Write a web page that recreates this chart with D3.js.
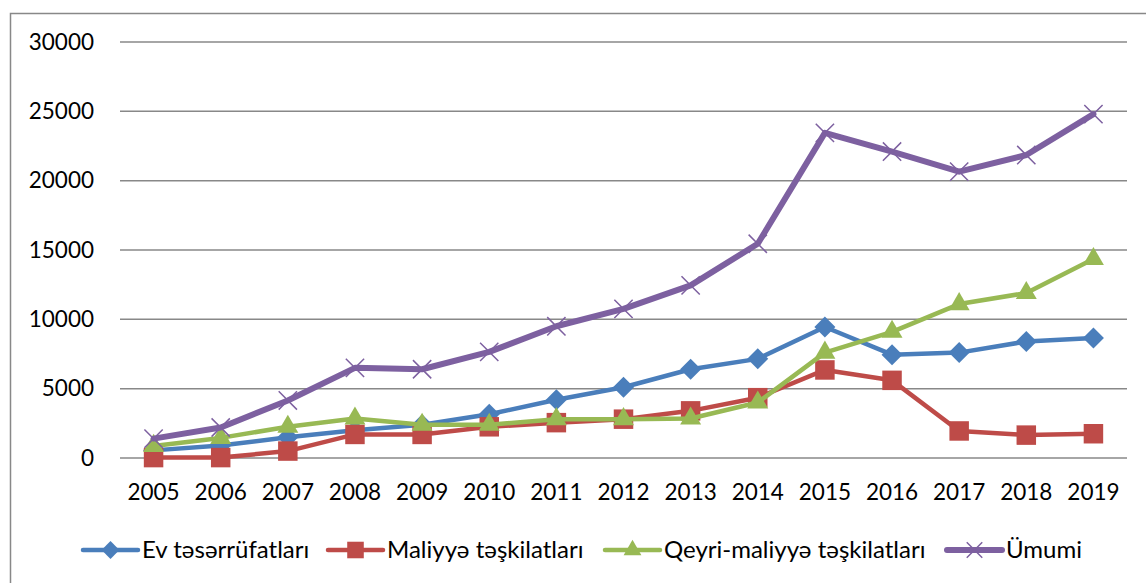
<!DOCTYPE html>
<html>
<head>
<meta charset="utf-8">
<script src="https://cdn.jsdelivr.net/npm/d3@7"></script>
<style>
  body { margin: 0; background: #fff; }
  svg { display: block; font-family: Lato, 'Open Sans', sans-serif; }
</style>
</head>
<body>
<svg id="chart" width="1146" height="583"></svg>
<script>
const years = ['2005', '2006', '2007', '2008', '2009', '2010', '2011', '2012', '2013', '2014', '2015', '2016', '2017', '2018', '2019'];
const evValues = [550, 900, 1500, 2000, 2400, 3150, 4200, 5100, 6400, 7150, 9450, 7450, 7600, 8400, 8650];
const maliyyeValues = [30, 30, 500, 1700, 1700, 2250, 2550, 2800, 3400, 4350, 6350, 5600, 1950, 1650, 1750];
const qeyriValues = [870, 1450, 2250, 2850, 2400, 2400, 2800, 2800, 2850, 4000, 7600, 9100, 11100, 11900, 14350];
const umumiValues = [1400, 2200, 4150, 6500, 6400, 7650, 9500, 10750, 12450, 15450, 23450, 22100, 20650, 21850, 24800];
const yTicks = [0, 5000, 10000, 15000, 20000, 25000, 30000];

const series = [
  { label: 'Ev təsərrüfatları', values: evValues, color: '#4a7ebb', marker: 'diamond', width: 4.5 },
  { label: 'Maliyyə təşkilatları', values: maliyyeValues, color: '#be4b48', marker: 'square', width: 4.5 },
  { label: 'Qeyri-maliyyə təşkilatları', values: qeyriValues, color: '#98b954', marker: 'triangle', width: 4.5 },
  { label: 'Ümumi', values: umumiValues, color: '#7d60a0', marker: 'x', width: 6 }
];

const margin = { top: 42, left: 120, right: 1127, bottom: 458 };
const svg = d3.select('#chart');

/* outer frame (only top and left edges are visible) */
svg.append('path')
  .attr('d', 'M10.5,583 L10.5,13.5 L1146,13.5')
  .attr('fill', 'none')
  .attr('stroke', '#888')
  .attr('stroke-width', 1.5);

const xScale = d3.scaleBand(years, [margin.left, margin.right]).padding(0);
const yScale = d3.scaleLinear([0, 30000], [margin.bottom, margin.top]);
const xPos = (i) => xScale(years[i]) + xScale.bandwidth() / 2;

/* grid lines */
svg.append('g')
  .selectAll('line')
  .data(yTicks)
  .enter()
  .append('line')
  .attr('x1', margin.left)
  .attr('x2', margin.right)
  .attr('y1', (d) => yScale(d))
  .attr('y2', (d) => yScale(d))
  .attr('stroke', '#888')
  .attr('stroke-width', 1.5);

/* left axis labels */
const leftAxis = d3.axisLeft(yScale)
  .tickValues(yTicks)
  .tickFormat(d3.format('d'))
  .tickSize(0)
  .tickPadding(26);
const leftG = svg.append('g')
  .attr('transform', `translate(${margin.left}, 0)`)
  .call(leftAxis);
leftG.select('.domain').remove();
leftG.selectAll('text')
  .attr('font-size', 22.5)
  .attr('font-family', 'Lato, sans-serif')
  .attr('fill', '#000');

/* bottom axis labels */
const bottomAxis = d3.axisBottom(xScale).tickSize(0).tickPadding(26);
const bottomG = svg.append('g')
  .attr('transform', `translate(0, ${margin.bottom})`)
  .call(bottomAxis);
bottomG.select('.domain').remove();
bottomG.selectAll('text')
  .attr('font-size', 22.5)
  .attr('font-family', 'Lato, sans-serif')
  .attr('fill', '#000');

function markerPath(type, scale) {
  const s = scale || 1;
  if (type === 'diamond') {
    const r = 10.5 * s;
    return `M0,${-r}L${r},0L0,${r}L${-r},0Z`;
  }
  if (type === 'square') return d3.symbol(d3.symbolSquare, 380 * s * s)();
  if (type === 'triangle') return d3.symbol(d3.symbolTriangle, 190 * s * s)();
  return d3.symbol(d3.symbolX, 220 * s * s)();
}

function drawMarker(g, d, x, y, scale) {
  const m = g.append('path')
    .attr('d', markerPath(d.marker, scale))
    .attr('transform', `translate(${x}, ${y})`);
  if (d.marker === 'x') {
    m.attr('fill', 'none').attr('stroke', d.color).attr('stroke-width', 1.5);
  } else {
    m.attr('fill', d.color).attr('stroke', 'none');
  }
}

/* data lines */
const line = d3.line()
  .x((d, i) => xPos(i))
  .y((d) => yScale(d));

series.forEach((d) => {
  const g = svg.append('g');
  g.append('path')
    .attr('d', line(d.values))
    .attr('fill', 'none')
    .attr('stroke', d.color)
    .attr('stroke-width', d.width)
    .attr('stroke-linejoin', 'round')
    .attr('stroke-linecap', 'round');
  d.values.forEach((v, i) => drawMarker(g, d, xPos(i), yScale(v)));
});

/* legend */
const legendY = 550;
const legendStarts = [83, 328, 605, 947];
const legendG = svg.append('g');
series.forEach((d, i) => {
  const x0 = legendStarts[i];
  const g = legendG.append('g');
  g.append('line')
    .attr('x1', x0)
    .attr('x2', x0 + 55)
    .attr('y1', legendY)
    .attr('y2', legendY)
    .attr('stroke', d.color)
    .attr('stroke-width', d.width)
    .attr('stroke-linecap', 'round');
  drawMarker(g, d, x0 + 27.5, legendY, 0.85);
  g.append('text')
    .attr('x', x0 + 59)
    .attr('y', legendY)
    .attr('dy', '0.35em')
    .attr('font-size', 24)
    .attr('fill', '#000')
    .text(d.label);
});
</script>
</body>
</html>
